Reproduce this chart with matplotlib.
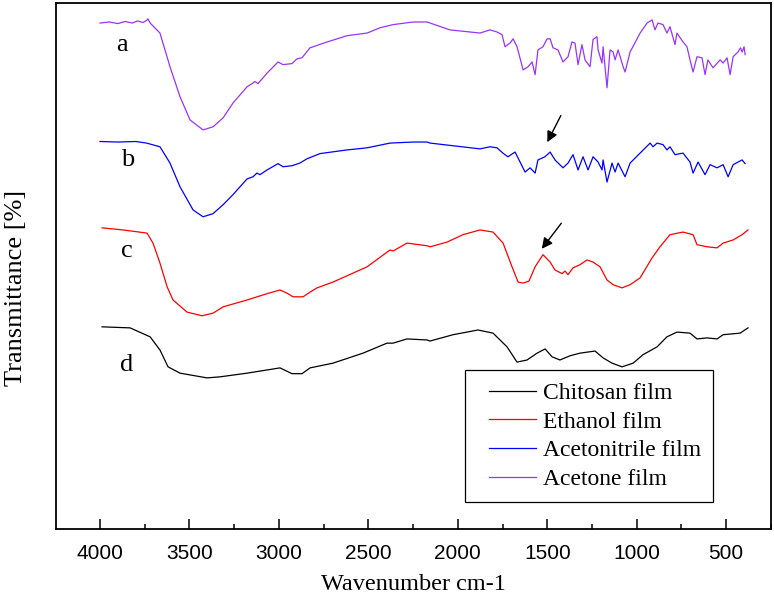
import numpy as np
import matplotlib
matplotlib.use('Agg')
import matplotlib.pyplot as plt
from matplotlib.ticker import MultipleLocator
from matplotlib.patches import Rectangle

# FTIR spectra (wavenumber cm-1, transmittance %)
wn_a = [4000, 3950, 3900, 3860, 3820, 3790, 3760, 3740, 3732, 3720, 3665, 3609, 3553, 3497, 3424, 3368,
        3312, 3257, 3178, 3150, 3134, 3117, 3066, 3005, 2977, 2927, 2899, 2871, 2826, 2731, 2619, 2507,
        2435, 2362, 2250, 2172, 2155, 2044, 1876, 1820, 1781, 1753, 1736, 1708, 1691, 1669, 1635, 1607,
        1585, 1568, 1552, 1524, 1501, 1484, 1468, 1440, 1412, 1384, 1362, 1345, 1328, 1306, 1289, 1261,
        1244, 1222, 1216, 1194, 1188, 1166, 1149, 1132, 1121, 1104, 1076, 1065, 1037, 981, 942, 914,
        898, 881, 853, 831, 814, 786, 775, 741, 719, 702, 685, 663, 635, 618, 602, 573, 534, 517,
        495, 478, 461, 434, 420, 411, 400, 394]
t_a = [96.1, 96.3, 96.0, 96.4, 96.1, 96.5, 96.2, 96.6, 96.9, 96.1, 94.2, 87.8, 82.1, 77.7, 75.8, 76.4,
       78.1, 80.9, 84.0, 84.6, 85.0, 84.6, 86.6, 88.7, 88.2, 88.4, 89.3, 89.5, 91.4, 92.5, 93.7, 94.2,
       95.2, 95.8, 96.3, 96.3, 96.1, 94.8, 94.2, 94.8, 94.4, 93.9, 91.6, 92.3, 93.1, 91.6, 87.2, 87.8,
       88.7, 86.3, 91.0, 91.6, 93.1, 93.1, 91.4, 91.0, 88.7, 89.7, 92.5, 92.3, 88.2, 92.0, 89.1, 87.8,
       93.0, 93.5, 91.0, 88.5, 91.6, 83.8, 91.0, 90.6, 89.1, 91.0, 87.8, 86.8, 90.6, 94.2, 96.1, 96.7,
       94.8, 96.1, 95.8, 94.2, 95.4, 92.0, 94.2, 92.5, 91.6, 89.1, 86.8, 89.7, 89.5, 86.3, 89.1, 87.6,
       89.1, 88.5, 89.5, 86.3, 89.7, 90.6, 91.4, 90.6, 91.6, 90.1]

wn_b = [4000, 3900, 3800, 3740, 3665, 3609, 3553, 3480, 3424, 3368, 3312, 3257, 3178, 3145, 3123, 3106,
        3066, 3005, 2977, 2927, 2883, 2844, 2771, 2619, 2507, 2379, 2250, 2172, 2155, 1876, 1820, 1781,
        1748, 1720, 1680, 1652, 1624, 1596, 1568, 1552, 1513, 1484, 1457, 1412, 1384, 1356, 1328, 1300,
        1272, 1244, 1216, 1194, 1188, 1166, 1138, 1121, 1104, 1065, 1037, 981, 925, 909, 886, 853,
        831, 814, 786, 741, 702, 685, 657, 618, 590, 551, 517, 489, 461, 411, 394]
t_b = [73.6, 73.5, 73.6, 73.3, 72.6, 69.5, 65.0, 60.6, 59.3, 59.9, 61.6, 63.5, 66.5, 66.9, 67.6, 67.3,
       68.2, 69.4, 68.8, 69.0, 69.5, 70.3, 71.3, 72.0, 72.4, 73.3, 73.5, 73.5, 73.3, 72.2, 72.6, 72.4,
       71.4, 70.7, 71.6, 69.7, 67.8, 68.6, 67.6, 70.1, 70.7, 71.6, 70.1, 68.6, 69.5, 71.1, 68.2, 70.7,
       68.2, 70.7, 69.7, 68.2, 70.1, 65.9, 69.5, 67.8, 69.5, 66.9, 69.5, 71.4, 73.3, 72.6, 73.3, 73.0,
       72.0, 72.6, 71.1, 71.4, 69.7, 67.6, 69.7, 67.3, 69.2, 68.6, 69.2, 66.9, 69.2, 70.1, 69.4]

wn_c = [3989, 3871, 3737, 3704, 3665, 3625, 3592, 3514, 3430, 3368, 3312, 3178, 3066, 2994, 2955, 2921,
        2865, 2826, 2787, 2698, 2507, 2379, 2362, 2284, 2172, 2155, 2060, 1971, 1876, 1803, 1747, 1697,
        1663, 1635, 1602, 1568, 1524, 1484, 1457, 1417, 1401, 1384, 1356, 1317, 1278, 1244, 1205, 1166,
        1132, 1082, 1037, 981, 914, 870, 814, 741, 685, 663, 607, 551, 517, 461, 411, 378]
t_c = [57.2, 56.8, 56.2, 54.3, 50.5, 46.0, 43.5, 41.2, 40.5, 41.0, 42.2, 43.5, 44.7, 45.4, 44.8, 44.1,
       44.1, 45.0, 45.8, 46.9, 49.8, 53.0, 52.8, 54.3, 53.8, 53.6, 54.5, 55.9, 56.8, 56.4, 54.3, 49.8,
       46.9, 46.7, 47.1, 49.8, 52.1, 50.7, 49.2, 48.5, 49.0, 48.3, 49.6, 50.2, 51.1, 50.7, 49.8, 47.3,
       46.4, 45.8, 46.4, 47.7, 51.5, 53.6, 55.9, 56.4, 55.9, 54.0, 53.6, 53.4, 54.3, 54.9, 55.9, 56.8]

wn_d = [3989, 3832, 3720, 3665, 3620, 3553, 3402, 3329, 3178, 2994, 2927, 2871, 2826, 2698, 2530, 2396,
        2362, 2284, 2172, 2155, 2027, 1887, 1803, 1725, 1669, 1613, 1557, 1512, 1473, 1429, 1373, 1317,
        1233, 1188, 1138, 1082, 1020, 965, 886, 831, 775, 702, 663, 607, 551, 517, 422, 378]
t_d = [38.4, 38.2, 36.5, 34.0, 30.8, 29.6, 28.7, 28.9, 29.6, 30.6, 29.5, 29.5, 30.6, 31.5, 33.4, 35.3,
       35.3, 36.1, 35.9, 35.7, 36.9, 37.8, 37.2, 34.6, 31.7, 32.1, 33.4, 34.2, 32.7, 32.1, 32.9, 33.4,
       33.8, 32.5, 31.5, 30.8, 31.5, 33.1, 34.6, 36.5, 37.4, 37.2, 36.1, 36.3, 36.1, 36.9, 37.2, 38.2]

series_names = ['Chitosan film', 'Ethanol film', 'Acetonitrile film', 'Acetone film']
curve_tags = ['a', 'b', 'c', 'd']
tag_wn = [3877, 3843, 3849, 3849]
tag_t = [92.0, 70.1, 52.8, 31.2]

plt.rcParams['font.family'] = ['Liberation Serif', 'DejaVu Serif']

fig = plt.figure(figsize=(7.74, 5.98), dpi=100)
ax = fig.add_axes([0.0724, 0.1154, 0.9238, 0.8804])

ax.plot(wn_d, t_d, color='black', lw=0.9, label=series_names[0])
ax.plot(wn_c, t_c, color='#FF0000', lw=0.9, label=series_names[1])
ax.plot(wn_b, t_b, color='#0000FF', lw=0.9, label=series_names[2])
ax.plot(wn_a, t_a, color='#9933FF', lw=0.9, label=series_names[3])

for tag, x, y in zip(curve_tags, tag_wn, tag_t):
    ax.text(x, y, tag, fontsize=19, ha='center', va='center')

# arrows pointing at the new band
arrow_kw = dict(arrowstyle='-|>', color='black', lw=1.0, mutation_scale=16)
ax.annotate('', xy=(1507, 73.0), xytext=(1417, 79.0), arrowprops=arrow_kw)
ax.annotate('', xy=(1540, 52.8), xytext=(1412, 58.5), arrowprops=arrow_kw)

ax.set_xlim(4246, 249)
ax.set_ylim(0, 100)
ax.xaxis.set_major_locator(MultipleLocator(500))
ax.xaxis.set_minor_locator(MultipleLocator(250))
ax.set_yticks([])
ax.tick_params(axis='x', which='major', direction='in', length=7, width=1.1, pad=11)
ax.tick_params(axis='x', which='minor', direction='in', length=3.5, width=1.1)
for lbl in ax.get_xticklabels():
    lbl.set_fontfamily('Liberation Sans')
    lbl.set_fontsize(15)
for sp in ax.spines.values():
    sp.set_linewidth(1.3)

ax.set_xlabel('Wavenumber cm-1', fontsize=17.5)
ax.xaxis.set_label_coords(0.5, -0.0855)
ax.set_ylabel('Transmittance [%]', fontsize=19)
ax.yaxis.set_label_coords(-0.041, 0.458)

# legend box drawn separately (wider left margin than right)
ax.add_patch(Rectangle((0.572, 0.0513), 0.347, 0.2507, transform=ax.transAxes, fill=False,
                       edgecolor='black', lw=0.9, zorder=4))
leg = ax.legend(loc='lower right', bbox_to_anchor=(0.919, 0.051), fontsize=17, frameon=False,
                handlelength=2.0, handletextpad=0.3, labelspacing=0.31, borderpad=0.5,
                borderaxespad=0)

fig.savefig('out.png', dpi=100)
